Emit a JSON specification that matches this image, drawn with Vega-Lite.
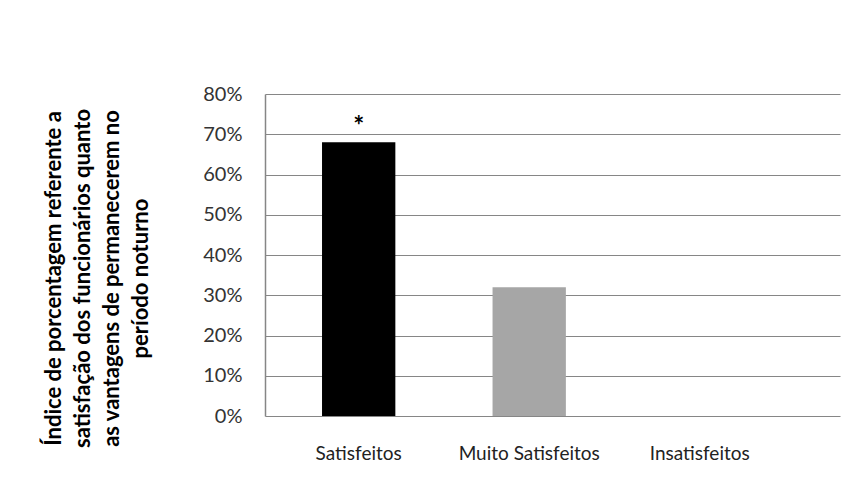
{
  "$schema": "https://vega.github.io/schema/vega-lite/v6.json",
  "width": 575,
  "height": 322,
  "autosize": "none",
  "padding": {"left": 265, "top": 94, "right": 13, "bottom": 73},
  "background": "white",
  "data": {"values": [
    {"categoria": "Satisfeitos", "valor": 0.68, "marca": "*"},
    {"categoria": "Muito Satisfeitos", "valor": 0.32, "marca": ""},
    {"categoria": "Insatisfeitos", "valor": 0.0, "marca": ""}
  ]},
  "config": {"view": {"stroke": null}, "font": "Lato"},
  "encoding": {
    "x": {
      "field": "categoria", "type": "nominal", "sort": null,
      "scale": {"paddingInner": 0.57, "paddingOuter": 0.471, "align": 0.355},
      "axis": {"title": null, "labelAngle": 0, "domain": false, "ticks": false, "labelPadding": 28, "labelFontSize": 19, "labelColor": "#222222", "labelFont": "Lato"}
    },
    "y": {
      "field": "valor", "type": "quantitative",
      "scale": {"domain": [0, 0.8], "nice": false},
      "axis": {
        "values": [0, 0.1, 0.2, 0.3, 0.4, 0.5, 0.6, 0.7, 0.8],
        "format": ".0%",
        "ticks": false, "domain": true, "domainColor": "#868686", "domainWidth": 1.5,
        "gridColor": "#868686", "gridWidth": 1.2,
        "labelPadding": 23, "labelFontSize": 20, "labelColor": "#333333",
        "title": ["Índice de porcentagem referente a", "satisfação dos funcionários quanto", "as vantagens de permanecerem no", "período noturno"],
        "titleFontSize": 22, "titleFontWeight": "bold", "titleColor": "#000000", "titleLineHeight": 29,
        "titlePadding": 50, "titleY": 184
      }
    }
  },
  "layer": [
    {
      "mark": {"type": "bar"},
      "encoding": {
        "color": {"field": "categoria", "type": "nominal", "legend": null,
          "scale": {"domain": ["Satisfeitos", "Muito Satisfeitos", "Insatisfeitos"], "range": ["#000000", "#a6a6a6", "#d9d9d9"]}}
      }
    },
    {
      "mark": {"type": "text", "baseline": "bottom", "dy": -2, "fontSize": 26, "fontWeight": "bold", "color": "#000000"},
      "encoding": {"text": {"field": "marca"}}
    }
  ]
}
